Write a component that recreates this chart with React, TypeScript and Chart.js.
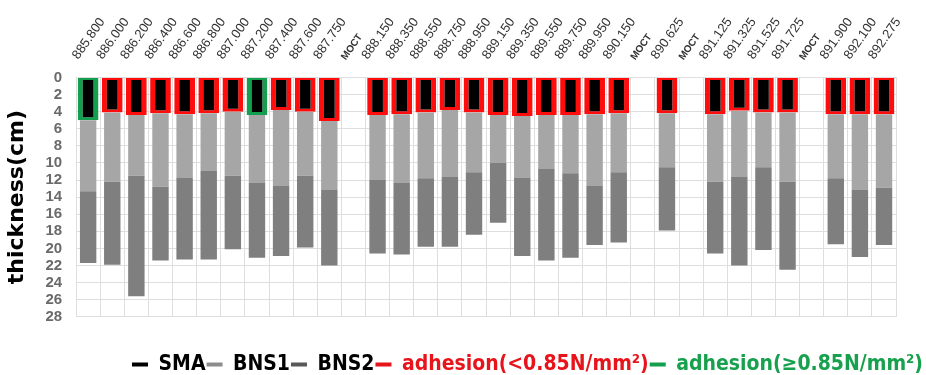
import React, { useEffect, useRef } from 'react';
import { Chart, registerables } from 'chart.js';

Chart.register(...registerables);

const categories = [
  '885.800', '886.000', '886.200', '886.400', '886.600', '886.800', '887.000', '887.200',
  '887.400', '887.600', '887.750', 'МОСТ', '888.150', '888.350', '888.550', '888.750',
  '888.950', '889.150', '889.350', '889.550', '889.750', '889.950', '890.150', 'МОСТ',
  '890.625', 'МОСТ', '891.125', '891.325', '891.525', '891.725', 'МОСТ', '891.900',
  '892.100', '892.275',
];

// depth (cm) at which each layer ends
const smaBottom = [5.0, 4.1, 4.4, 4.2, 4.3, 4.2, 4.0, 4.4, 3.8, 4.0, 5.1, null, 4.4, 4.3, 4.1, 3.8, 4.1, 4.4, 4.5, 4.4, 4.4, 4.3, 4.2, null, 4.2, null, 4.3, 3.9, 4.1, 4.1, null, 4.3, 4.3, 4.3];
const bns1Bottom = [13.3, 12.2, 11.5, 12.8, 11.7, 10.9, 11.5, 12.3, 12.7, 11.5, 13.1, null, 12.0, 12.3, 11.8, 11.6, 11.1, 10.0, 11.7, 10.7, 11.2, 12.7, 11.1, null, 10.5, null, 12.2, 11.6, 10.5, 12.2, null, 11.8, 13.1, 12.9];
const bns2Bottom = [21.7, 21.9, 25.6, 21.4, 21.3, 21.3, 20.1, 21.1, 20.9, 19.9, 22.0, null, 20.6, 20.7, 19.8, 19.8, 18.4, 17.0, 20.9, 21.4, 21.1, 19.6, 19.3, null, 17.9, null, 20.6, 22.0, 20.2, 22.5, null, 19.5, 21.0, 19.6];
// adhesion class: 'low' (<0.85) or 'high' (>=0.85)
const adhesion = ['high', 'low', 'low', 'low', 'low', 'low', 'low', 'high', 'low', 'low', 'low', null, 'low', 'low', 'low', 'low', 'low', 'low', 'low', 'low', 'low', 'low', 'low', null, 'low', null, 'low', 'low', 'low', 'low', null, 'low', 'low', 'low'];

const yTicks = [0, 2, 4, 6, 8, 10, 12, 14, 16, 18, 20, 22, 24, 26, 28];

const legendTexts = ['SMA', 'BNS1', 'BNS2', 'adhesion(<0.85N/mm²)', 'adhesion(≥0.85N/mm²)'];

const COLOR_SMA = '#000000';
const COLOR_BNS1 = '#a6a6a6';
const COLOR_BNS2 = '#7f7f7f';
const COLOR_RED = '#ff0d0d';
const COLOR_GREEN = '#13a04e';
const legendBoxColors = [COLOR_SMA, '#8c8c8c', '#595959', '#e8141c', COLOR_GREEN];
const legendTextColors = ['#000000', '#000000', '#000000', '#e8141c', '#17a04d'];

export default function App() {
  const ref = useRef<HTMLCanvasElement>(null);

  useEffect(() => {
    document.body.style.margin = '0';
    const sma = smaBottom.map((v) => (v == null ? null : [0, v]));
    const bns1 = bns1Bottom.map((v, i) => (v == null ? null : [smaBottom[i] as number, v]));
    const bns2 = bns2Bottom.map((v, i) => (v == null ? null : [bns1Bottom[i] as number, v]));
    const borderCols = adhesion.map((a) => (a === 'high' ? COLOR_GREEN : COLOR_RED));

    const chart = new Chart(ref.current as HTMLCanvasElement, {
      type: 'bar',
      data: {
        labels: categories,
        datasets: [
          {
            label: 'BNS2',
            data: bns2 as any,
            backgroundColor: COLOR_BNS2,
            barPercentage: 0.68,
            categoryPercentage: 1,
            borderWidth: 0,
          },
          {
            label: 'BNS1',
            data: bns1 as any,
            backgroundColor: COLOR_BNS1,
            barPercentage: 0.68,
            categoryPercentage: 1,
            borderWidth: 0,
          },
          {
            label: 'SMA',
            data: sma as any,
            backgroundColor: COLOR_SMA,
            borderColor: borderCols,
            borderWidth: { top: 2, bottom: 3, left: 5, right: 5 },
            borderSkipped: false,
            barPercentage: 0.86,
            categoryPercentage: 1,
          },
        ],
      },
      options: {
        animation: false,
        responsive: true,
        maintainAspectRatio: false,
        layout: { padding: { top: 0, left: 2, right: 2, bottom: -10 } },
        plugins: {
          tooltip: { enabled: false },
          legend: {
            position: 'bottom',
            align: 'end',
            title: {
              display: true,
              text: ' ',
              font: { size: 1 },
              padding: { top: 35, bottom: 0 },
            },
            labels: {
              boxWidth: 16,
              boxHeight: 4,
              padding: 1,
              font: { family: "'DejaVu Sans Condensed', 'DejaVu Sans'", weight: 'bold', size: 21 },
              generateLabels: () =>
                legendTexts.map((t, i) => ({
                  text: t,
                  fillStyle: legendBoxColors[i],
                  strokeStyle: legendBoxColors[i],
                  lineWidth: 0,
                  fontColor: legendTextColors[i],
                  hidden: false,
                })) as any,
            },
          },
        },
        scales: {
          x: {
            position: 'top',
            stacked: true,
            offset: true,
            grid: { offset: true, color: '#dedede', drawTicks: false },
            border: { color: '#dedede' },
            ticks: {
              autoSkip: false,
              minRotation: 55,
              maxRotation: 55,
              padding: 15,
              color: '#333333',
              font: (ctx: any) => {
                const lbl = categories[ctx.index];
                return lbl === 'МОСТ'
                  ? { family: "'Liberation Sans', Arial", size: 10, weight: 'bold' }
                  : { family: "'Liberation Sans', Arial", size: 13 };
              },
            },
          },
          y: {
            reverse: true,
            min: 0,
            max: 28,
            stacked: false,
            afterBuildTicks: (axis: any) => {
              axis.ticks = yTicks.map((v) => ({ value: v }));
            },
            grid: { color: '#dedede', drawTicks: false },
            border: { color: '#dedede' },
            ticks: {
              autoSkip: false,
              padding: 14,
              color: '#6a6a6a',
              font: { family: "'Liberation Sans', Arial", size: 15, weight: 'bold' },
            },
            title: {
              display: true,
              text: 'thickness(cm)',
              color: '#000000',
              padding: { top: 2, bottom: 1 },
              font: { family: "'DejaVu Sans'", size: 22, weight: 'bold' },
            },
          },
        },
      },
    });
    return () => chart.destroy();
  }, []);

  return (
    <div style={{ position: 'relative', width: 926, height: 375 }}>
      <canvas ref={ref} />
    </div>
  );
}
